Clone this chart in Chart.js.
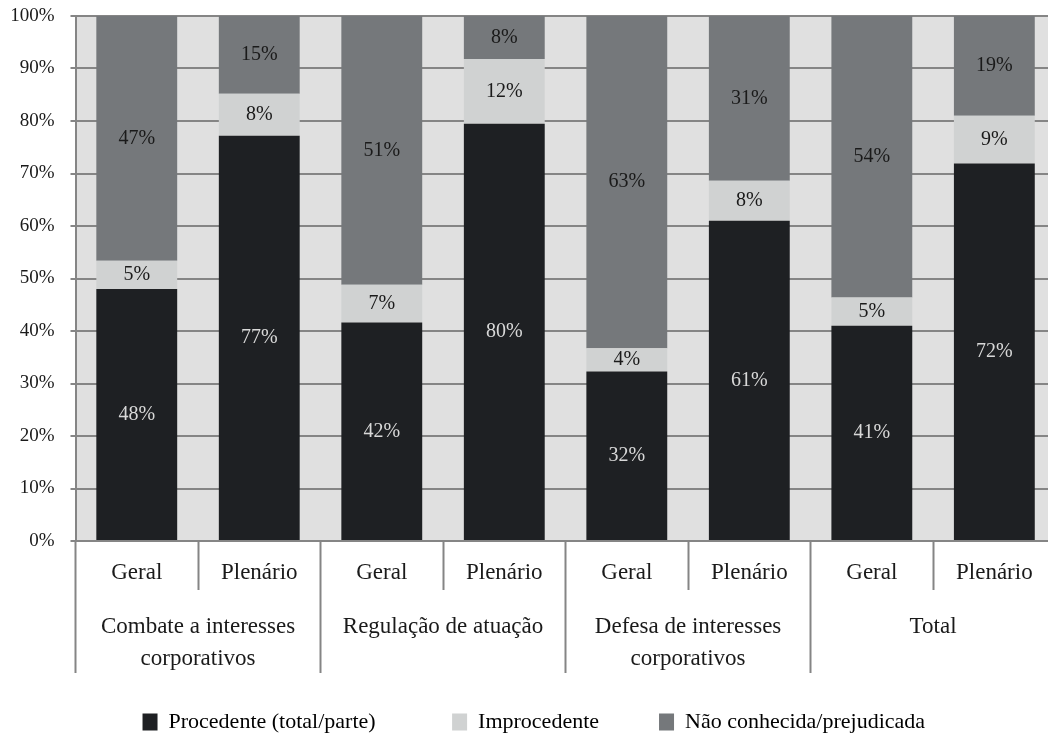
<!DOCTYPE html>
<html>
<head>
<meta charset="utf-8">
<script src="https://cdn.jsdelivr.net/npm/chart.js@4/dist/chart.umd.min.js"></script>
<style>
  html, body { margin: 0; padding: 0; overflow: hidden; background: #fff; }
  #wrap { width: 1100px; height: 743px; }
</style>
</head>
<body>
<div id="wrap"><canvas id="chart"></canvas></div>
<script>
// categories
const subLabels = ['Geral', 'Plenário', 'Geral', 'Plenário', 'Geral', 'Plenário', 'Geral', 'Plenário'];
const groupLabels = [['Combate a interesses', 'corporativos'], 'Regulação de atuação', ['Defesa de interesses', 'corporativos'], 'Total'];

// series (percent of each bar)
const procedente   = [48.0, 77.2, 41.6, 79.5, 32.3, 61.0, 41.0, 71.9];
const improcedente = [5.4, 8.0, 7.2, 12.3, 4.4, 7.6, 5.4, 9.1];
const naoConhecida = [46.6, 14.8, 51.2, 8.2, 63.3, 31.4, 53.6, 19.0];

const seriesNames = ['Procedente (total/parte)', 'Improcedente', 'Não conhecida/prejudicada'];

const gridGray = '#858585';
const serif = "'Liberation Serif', 'DejaVu Serif', serif";

Chart.defaults.font.family = serif;
Chart.defaults.color = '#1a1a1a';

const plotBackground = {
    id: 'plotBackground',
    beforeDraw(chart) {
        const {ctx, chartArea: a} = chart;
        ctx.save();
        ctx.fillStyle = '#e0e0e0';
        ctx.fillRect(a.left, a.top, a.right - a.left, a.bottom - a.top);
        ctx.restore();
    }
};

const valueLabels = {
    id: 'valueLabels',
    afterDatasetsDraw(chart) {
        const ctx = chart.ctx;
        ctx.save();
        ctx.font = "20px " + serif;
        ctx.textAlign = 'center';
        ctx.textBaseline = 'middle';
        chart.data.datasets.forEach((ds, i) => {
            const meta = chart.getDatasetMeta(i);
            ctx.fillStyle = i === 0 ? '#d8d8d8' : '#1a1a1a';
            meta.data.forEach((bar, j) => {
                const {x, y, base} = bar.getProps(['x', 'y', 'base'], true);
                ctx.fillText(Math.round(ds.data[j]) + '%', x, (y + base) / 2);
            });
        });
        ctx.restore();
    }
};

new Chart(document.getElementById('chart'), {
    type: 'bar',
    data: {
        labels: subLabels,
        datasets: [
            { label: seriesNames[0], data: procedente, backgroundColor: '#1e2023' },
            { label: seriesNames[1], data: improcedente, backgroundColor: '#d0d2d2' },
            { label: seriesNames[2], data: naoConhecida, backgroundColor: '#75787b' }
        ]
    },
    options: {
        responsive: true,
        maintainAspectRatio: false,
        animation: false,
        barPercentage: 0.66,
        categoryPercentage: 1,
        layout: { padding: { left: 12, right: 44.4, top: 16, bottom: 0 } },
        scales: {
            x: {
                stacked: true,
                offset: true,
                grid: {
                    offset: true,
                    drawOnChartArea: false,
                    tickLength: 49,
                    tickWidth: 2,
                    tickColor: gridGray
                },
                border: { color: gridGray, width: 2 },
                ticks: {
                    font: { size: 23 },
                    padding: -31,
                    maxRotation: 0,
                    autoSkip: false
                },
                afterFit: (s) => { s.height = 49; }
            },
            x2: {
                type: 'category',
                position: 'bottom',
                weight: 1,
                labels: groupLabels,
                offset: true,
                grid: {
                    offset: true,
                    drawOnChartArea: false,
                    tickLength: 83,
                    tickWidth: 2,
                    tickColor: gridGray
                },
                border: { display: false },
                ticks: {
                    font: { size: 23, lineHeight: 1.4 },
                    padding: -62,
                    maxRotation: 0,
                    autoSkip: false
                },
                afterFit: (s) => { s.height = 83; }
            },
            y: {
                stacked: true,
                min: 0,
                max: 100,
                grid: {
                    color: gridGray,
                    lineWidth: 2,
                    tickLength: 5,
                    tickColor: gridGray
                },
                border: { color: gridGray, width: 2 },
                ticks: {
                    stepSize: 10,
                    padding: 16,
                    font: { size: 19 },
                    callback: (v) => v + '%'
                },
                afterFit: (s) => {
                    s.width = 63.5;
                    s.paddingTop = 0;
                    s.paddingBottom = 0;
                }
            }
        },
        plugins: {
            legend: {
                position: 'bottom',
                labels: {
                    boxWidth: 15,
                    boxHeight: 17,
                    padding: 38,
                    color: '#1a1a1a',
                    font: { size: 22 },
                    generateLabels(chart) {
                        const pad = ['       ', '    ', ''];
                        return chart.data.datasets.map((ds, i) => ({
                            text: ds.label + pad[i],
                            fillStyle: ds.backgroundColor,
                            strokeStyle: ds.backgroundColor,
                            lineWidth: 0,
                            hidden: false,
                            datasetIndex: i
                        }));
                    }
                }
            },
            tooltip: { enabled: false }
        }
    },
    plugins: [plotBackground, valueLabels]
});
</script>
</body>
</html>
